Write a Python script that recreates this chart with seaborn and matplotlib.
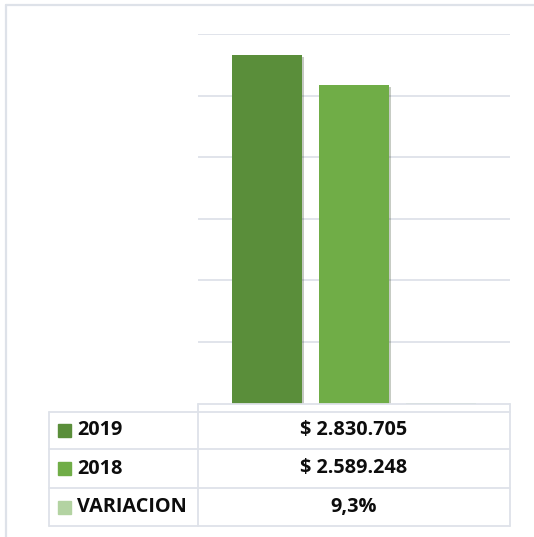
import pandas as pd
import matplotlib.pyplot as plt
import matplotlib.patheffects as pe
from matplotlib.lines import Line2D
import seaborn as sns

# datos
series = ['2019', '2018', 'VARIACION']
valores = [2830705, 2589248, 0.093]
etiquetas = ['$ 2.830.705', '$ 2.589.248', '9,3%']
colores = ['#5A8E3A', '#70AD47', '#B3D3A2']

df = pd.DataFrame({'grupo': [''] * 3, 'serie': series, 'valor': valores})

W, H = 534, 537
borde = '#DEE2E9'

sns.set_style('white')
plt.rcParams['font.family'] = ['Open Sans', 'DejaVu Sans']

fig = plt.figure(figsize=(W / 100, H / 100), dpi=100)

def fx(x):
    return x / W

def fy(y):
    return 1 - y / H

# area del grafico
x0, x1 = 198, 510
y_top, y_bot = 34, 403.5
ax = fig.add_axes([fx(x0), fy(y_bot), fx(x1 - x0), (y_bot - y_top) / H])

sns.barplot(data=df, x='grupo', y='valor', hue='serie', palette=colores,
            width=0.84, gap=0.2, saturation=1, legend=False, ax=ax)

for p in ax.patches:
    p.set_linewidth(0)
    p.set_path_effects([pe.SimplePatchShadow(offset=(1.5, -1.5), alpha=0.25), pe.Normal()])

ax.set_xlim(-0.5, 0.5)
ax.set_ylim(0, 3000000)
ax.set_yticks(range(500000, 3000001, 500000))
ax.set_yticklabels([])
ax.set_xticks([])
ax.set_xlabel('')
ax.set_ylabel('')
ax.tick_params(length=0)
ax.grid(axis='y', color=borde, linewidth=1.3)
ax.set_axisbelow(True)
for s in ax.spines.values():
    s.set_visible(False)

def linea(xa, ya, xb, yb, lw=1.3):
    fig.add_artist(Line2D([fx(xa), fx(xb)], [fy(ya), fy(yb)], color=borde, linewidth=lw))

# marco exterior
linea(6, 5, 534, 5, 1.6)
linea(6, 5, 6, 537, 1.6)

# tabla de datos
filas = [411.5, 449, 488, 526]
linea(x0, 403.5, x1, 403.5)
for y in filas:
    linea(49, y, x1, y)
linea(49, filas[0], 49, filas[-1])
linea(x0, 403.5, x0, filas[-1])
linea(x1, 403.5, x1, filas[-1])

for i in range(3):
    yc = (filas[i] + filas[i + 1]) / 2
    fig.add_artist(plt.Rectangle((fx(58), fy(yc + 6.5)), fx(13), 13 / H, color=colores[i]))
    fig.text(fx(77), fy(yc), series[i], fontsize=14.3, fontweight='bold', color='#0d0d0d',
             va='center', ha='left')
    fig.text(fx((x0 + x1) / 2), fy(yc), etiquetas[i], fontsize=14.3, fontweight='bold',
             color='#0d0d0d', va='center', ha='center')

plt.savefig('out.png', dpi=100)
